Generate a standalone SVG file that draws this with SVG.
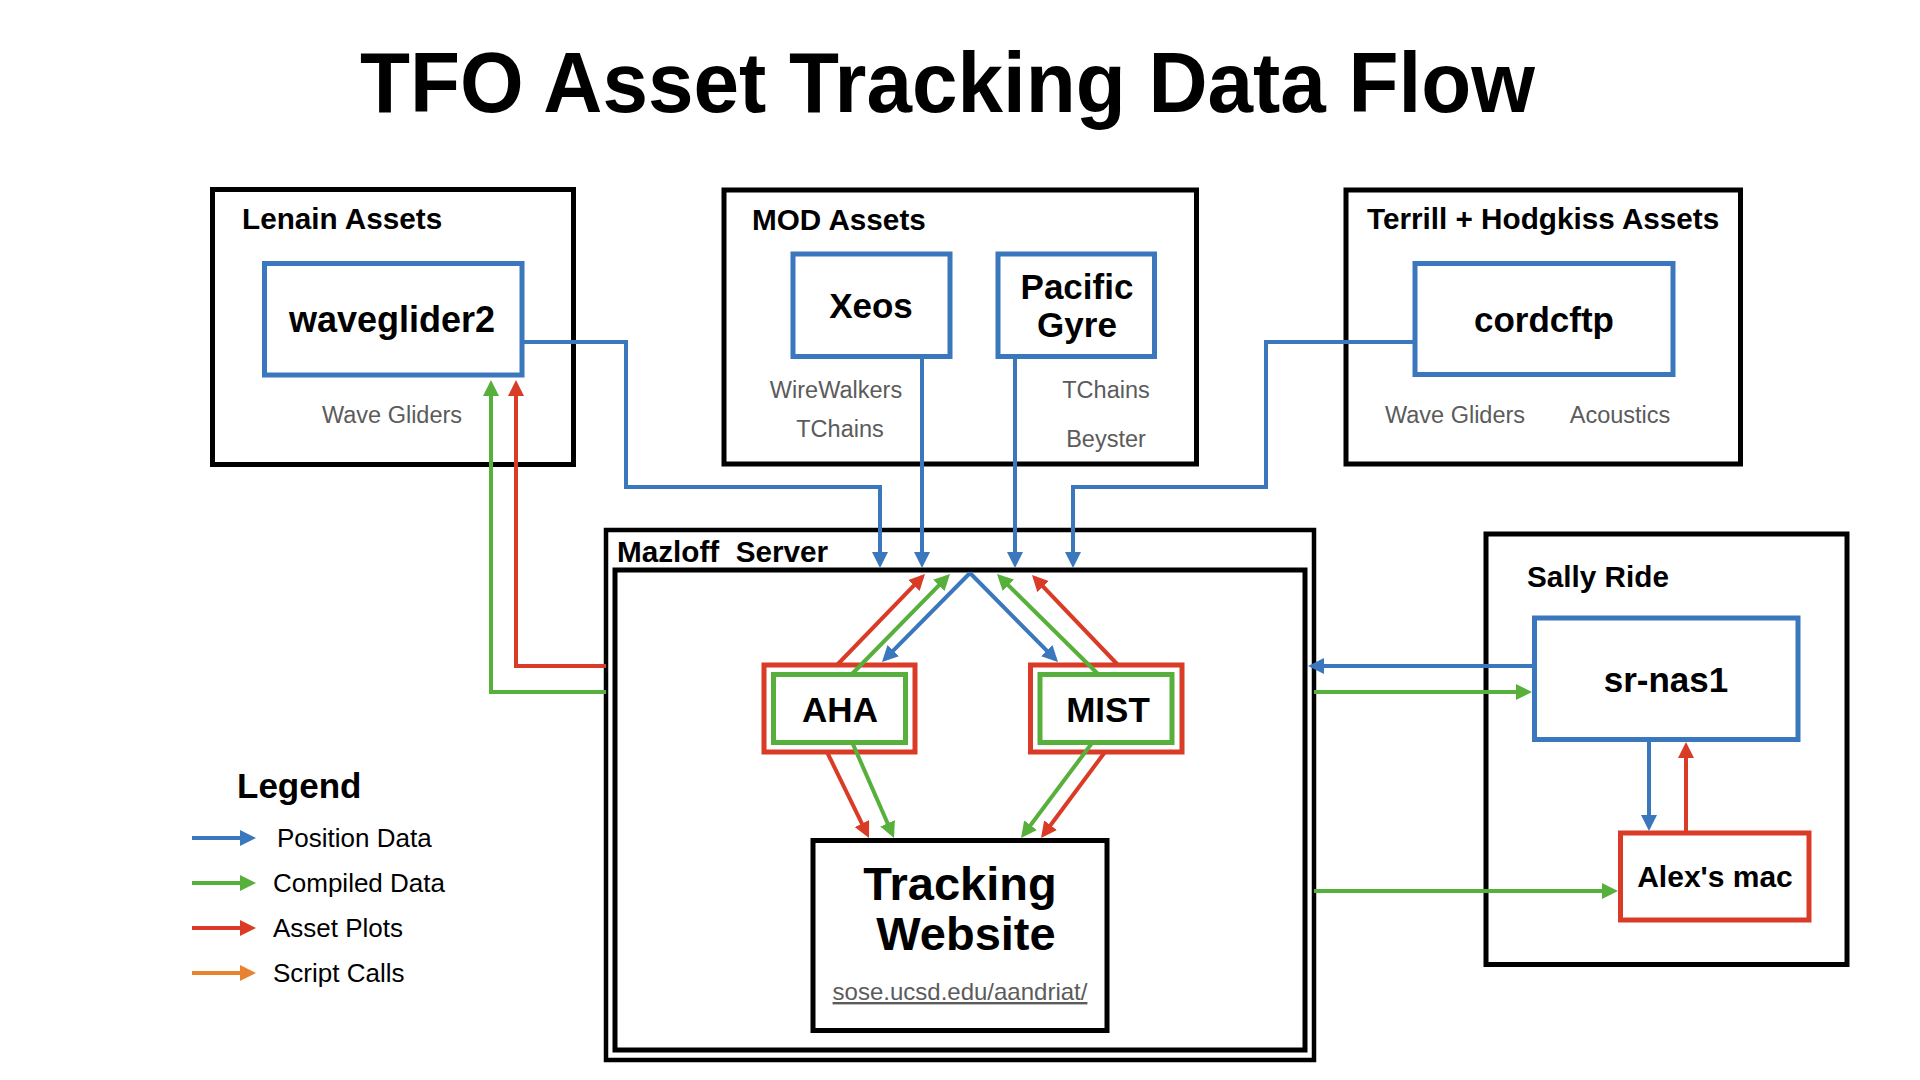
<svg xmlns="http://www.w3.org/2000/svg" width="1920" height="1080" viewBox="0 0 1920 1080">
<style>
  .bg{fill:#ffffff}
  .grp{fill:none;stroke:#000;stroke-width:5}
  .bbox{fill:#fff;stroke:#3a77bc;stroke-width:5}
  .rbox{fill:#fff;stroke:#da3b27;stroke-width:5}
  .gbox{fill:#fff;stroke:#58b03c;stroke-width:5}
  .kbox{fill:#fff;stroke:#000;stroke-width:5}
  .title{font-family:"Liberation Sans",Arial,sans-serif;font-weight:bold;font-size:85px;fill:#000}
  .hdr{font-family:"Liberation Sans",Arial,sans-serif;font-weight:bold;font-size:29.7px;fill:#000}
  .node{font-family:"Liberation Sans",Arial,sans-serif;font-weight:bold;font-size:35px;fill:#000;text-anchor:middle}
  .sub{font-family:"Liberation Sans",Arial,sans-serif;font-size:23.5px;fill:#5b5b5b;text-anchor:middle}
  .leg{font-family:"Liberation Sans",Arial,sans-serif;font-size:26px;fill:#000}
  .url{font-family:"Liberation Sans",Arial,sans-serif;font-size:24px;fill:#5b5b5b;text-anchor:middle;text-decoration:underline}
  .blue{fill:none;stroke:#3a77bc;stroke-width:4;marker-end:url(#ab)}
  .green{fill:none;stroke:#58b03c;stroke-width:4;marker-end:url(#ag)}
  .red{fill:none;stroke:#da3b27;stroke-width:4;marker-end:url(#ar)}
  .orange{fill:none;stroke:#e8822e;stroke-width:4;marker-end:url(#ao)}
</style>
<defs>
  <marker id="ab" markerUnits="userSpaceOnUse" markerWidth="16" markerHeight="16" refX="12" refY="8" orient="auto"><path d="M0,0 L16,8 L0,16 z" fill="#3a77bc"/></marker>
  <marker id="ag" markerUnits="userSpaceOnUse" markerWidth="16" markerHeight="16" refX="12" refY="8" orient="auto"><path d="M0,0 L16,8 L0,16 z" fill="#58b03c"/></marker>
  <marker id="ar" markerUnits="userSpaceOnUse" markerWidth="16" markerHeight="16" refX="12" refY="8" orient="auto"><path d="M0,0 L16,8 L0,16 z" fill="#da3b27"/></marker>
  <marker id="ao" markerUnits="userSpaceOnUse" markerWidth="16" markerHeight="16" refX="12" refY="8" orient="auto"><path d="M0,0 L16,8 L0,16 z" fill="#e8822e"/></marker>
</defs>
<rect class="bg" x="0" y="0" width="1920" height="1080"/>

<text class="title" x="360" y="112" textLength="1175" lengthAdjust="spacingAndGlyphs">TFO Asset Tracking Data Flow</text>

<!-- Group containers -->
<g id="lenain-assets">
  <rect class="grp" x="212.5" y="189.5" width="361" height="275"/>
  <text class="hdr" x="242" y="229">Lenain Assets</text>
</g>
<g id="mod-assets">
  <rect class="grp" x="724" y="190" width="472.5" height="274"/>
  <text class="hdr" x="752" y="230">MOD Assets</text>
</g>
<g id="terrill-hodgkiss-assets">
  <rect class="grp" x="1346" y="190" width="394.5" height="274"/>
  <text class="hdr" x="1367" y="229">Terrill + Hodgkiss Assets</text>
</g>
<g id="mazloff-server">
  <rect class="grp" x="606" y="530" width="708" height="530" style="stroke-width:4.5"/>
  <rect class="grp" x="615" y="570" width="690" height="480"/>
  <text class="hdr" x="617" y="562" style="white-space:pre">Mazloff  Server</text>
</g>
<g id="sally-ride">
  <rect class="grp" x="1486" y="534" width="361" height="430.5"/>
  <text class="hdr" x="1527" y="587">Sally Ride</text>
</g>

<!-- Nodes -->
<g id="waveglider2">
  <rect class="bbox" x="264.5" y="263.5" width="257.5" height="111.5"/>
  <text class="node" x="392" y="332" style="font-size:36px">waveglider2</text>
  <text class="sub" x="392" y="423">Wave Gliders</text>
</g>
<g id="xeos">
  <rect class="bbox" x="793" y="254" width="157" height="102.5"/>
  <text class="node" x="871" y="318">Xeos</text>
  <text class="sub" x="836" y="398">WireWalkers</text>
  <text class="sub" x="840" y="437">TChains</text>
</g>
<g id="pacific-gyre">
  <rect class="bbox" x="998" y="254" width="156.5" height="102.5"/>
  <text class="node" x="1077" y="299">Pacific</text>
  <text class="node" x="1077" y="337">Gyre</text>
  <text class="sub" x="1106" y="398">TChains</text>
  <text class="sub" x="1106" y="447">Beyster</text>
</g>
<g id="cordcftp">
  <rect class="bbox" x="1415" y="263.5" width="258" height="111"/>
  <text class="node" x="1544" y="332">cordcftp</text>
  <text class="sub" x="1455" y="423">Wave Gliders</text>
  <text class="sub" x="1620" y="423">Acoustics</text>
</g>
<g id="aha">
  <rect class="rbox" x="764" y="665" width="151" height="87"/>
  <rect class="gbox" x="773.5" y="674.5" width="132" height="68"/>
  <text class="node" x="840" y="722">AHA</text>
</g>
<g id="mist">
  <rect class="rbox" x="1030.5" y="665" width="151.5" height="87"/>
  <rect class="gbox" x="1040" y="674.5" width="132" height="68"/>
  <text class="node" x="1108" y="722">MIST</text>
</g>
<g id="tracking-website">
  <rect class="kbox" x="813" y="840.5" width="294" height="190"/>
  <text class="node" x="960" y="900" style="font-size:47px">Tracking</text>
  <text class="node" x="966" y="950" style="font-size:47px">Website</text>
  <text class="url" x="960" y="1000">sose.ucsd.edu/aandriat/</text>
</g>
<g id="sr-nas1">
  <rect class="bbox" x="1534.5" y="618" width="263.5" height="121.5"/>
  <text class="node" x="1666" y="692">sr-nas1</text>
</g>
<g id="alexs-mac">
  <rect class="rbox" x="1620.5" y="833" width="188.5" height="87"/>
  <text class="node" x="1715" y="887" style="font-size:30px">Alex's mac</text>
</g>

<!-- Connectors -->
<g id="connectors">
  <path class="blue" d="M522,342 H626 V487 H880 V564"/>
  <path class="blue" d="M922,356.5 V564"/>
  <path class="blue" d="M1015,356.5 V564"/>
  <path class="blue" d="M1415,342 H1266 V487 H1073 V564"/>
  <path class="blue" d="M970,573 L884.8,659.2"/>
  <path class="blue" d="M970,573 L1055.2,659.2"/>
  <path class="red" d="M837,665 L922.2,576.9"/>
  <path class="green" d="M852,674 L947.2,576.9"/>
  <path class="green" d="M1098,674 L999.8,576.8"/>
  <path class="red" d="M1118,665 L1034.8,577.9"/>
  <path class="red" d="M827,752 L867.2,834.4"/>
  <path class="green" d="M852,742 L892.4,834.3"/>
  <path class="green" d="M1092,743 L1023.4,834.8"/>
  <path class="red" d="M1105,752 L1043.4,834.8"/>
  <path class="red" d="M606,666 H516 V384"/>
  <path class="green" d="M606,692 H491 V384"/>
  <path class="blue" d="M1534,666 H1312"/>
  <path class="green" d="M1314,692 H1528"/>
  <path class="green" d="M1314,891 H1614"/>
  <path class="blue" d="M1649,740 V827"/>
  <path class="red" d="M1686,833 V746"/>
</g>

<!-- Legend -->
<g id="legend">
  <text class="hdr" x="237" y="798" style="font-size:35px">Legend</text>
  <path class="blue" d="M192,838 H252"/>
  <path class="green" d="M192,883 H252"/>
  <path class="red" d="M192,928 H252"/>
  <path class="orange" d="M192,973 H252"/>
  <text class="leg" x="277" y="847">Position Data</text>
  <text class="leg" x="273" y="892">Compiled Data</text>
  <text class="leg" x="273" y="937">Asset Plots</text>
  <text class="leg" x="273" y="982">Script Calls</text>
</g>
</svg>
